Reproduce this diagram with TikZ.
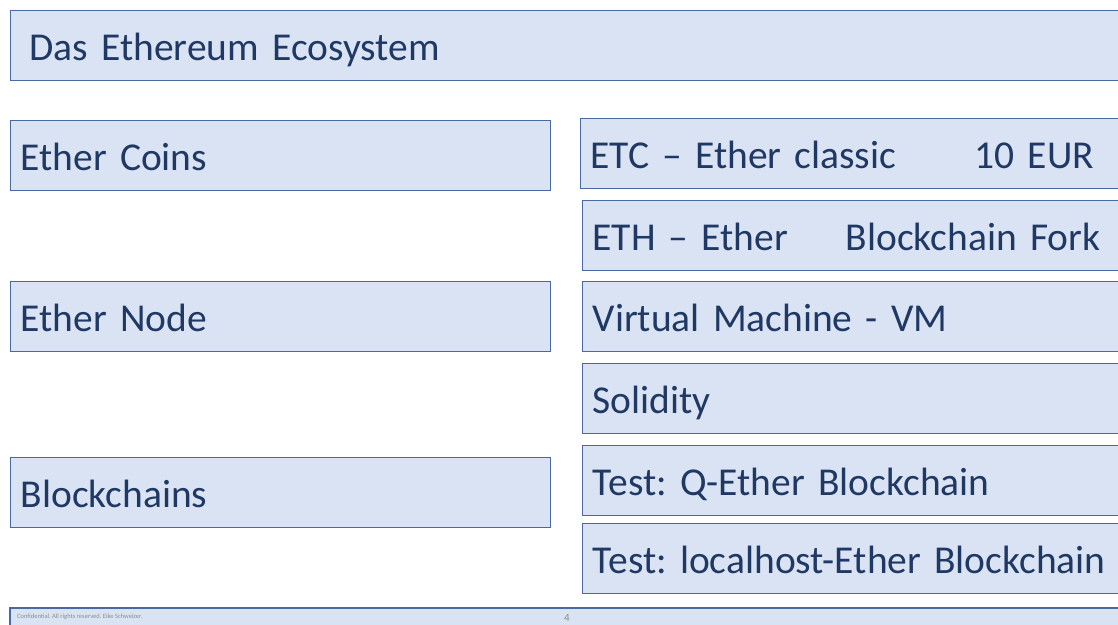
\documentclass[tikz,border=0pt]{standalone}
\usepackage{fontspec}
\setmainfont{Carlito}
\usetikzlibrary{positioning}
\definecolor{panelfill}{HTML}{DAE3F3}
\definecolor{panelline}{HTML}{4A69A3}
\definecolor{paneltext}{HTML}{1F3864}
\definecolor{footgray}{HTML}{8C8C8C}
\frenchspacing

\begin{document}
\begin{tikzpicture}[
  x=1pt, y=-1pt,
  panel/.style={draw=panelline, fill=panelfill, line width=1.4pt,
    anchor=north west, minimum height=70pt, inner xsep=10pt,
    text height=32pt, text depth=2pt,
    text=paneltext, align=left, font=\fontsize{39.5}{44}\selectfont},
  leftpanel/.style={panel, minimum width=540pt, text width=520pt},
  rightpanel/.style={panel, minimum width=550pt, text width=530pt},
  foot/.style={text=footgray, inner sep=0pt}
]
  \useasboundingbox (0,0) rectangle (1118,624);
  \clip (0,0) rectangle (1118,624);

  % header
  \node[panel, minimum width=1107pt, text width=1079pt, inner xsep=19pt] (title) at (10,10) {Das Ethereum Ecosystem};

  % left column
  \node[leftpanel] (coins) at (10,120) {Ether Coins};
  \node[leftpanel] (enode) at (10,281) {Ether Node};
  \node[leftpanel] (chains) at (10,457) {Blockchains};

  % right column
  \node[rightpanel] (etc) at (580,118) {\makebox[384pt][l]{ETC – Ether classic}10 EUR};
  \node[rightpanel] (eth) at (582,200) {\makebox[253pt][l]{ETH – Ether}Blockchain Fork};
  \node[rightpanel] (vm) at (582,281) {Virtual Machine - VM};
  \node[rightpanel] (sol) at (582,363) {Solidity};
  \node[rightpanel] (qtest) at (582,445) {Test: Q-Ether Blockchain};
  \node[rightpanel] (ltest) at (582,523) {Test: localhost-Ether Blockchain};

  % footer
  \draw[draw=panelline, fill=panelfill, line width=1.4pt] (10,608) rectangle (1130,640);
  \node[foot, anchor=west, font=\fontsize{6.5}{7}\selectfont] (conf) at (17,617) {Confidential. All rights reserved. Eike Schweizer.};
  \node[foot, anchor=west, font=\fontsize{11}{12}\selectfont] (pagenum) at (564,618) {4};
\end{tikzpicture}
\end{document}
